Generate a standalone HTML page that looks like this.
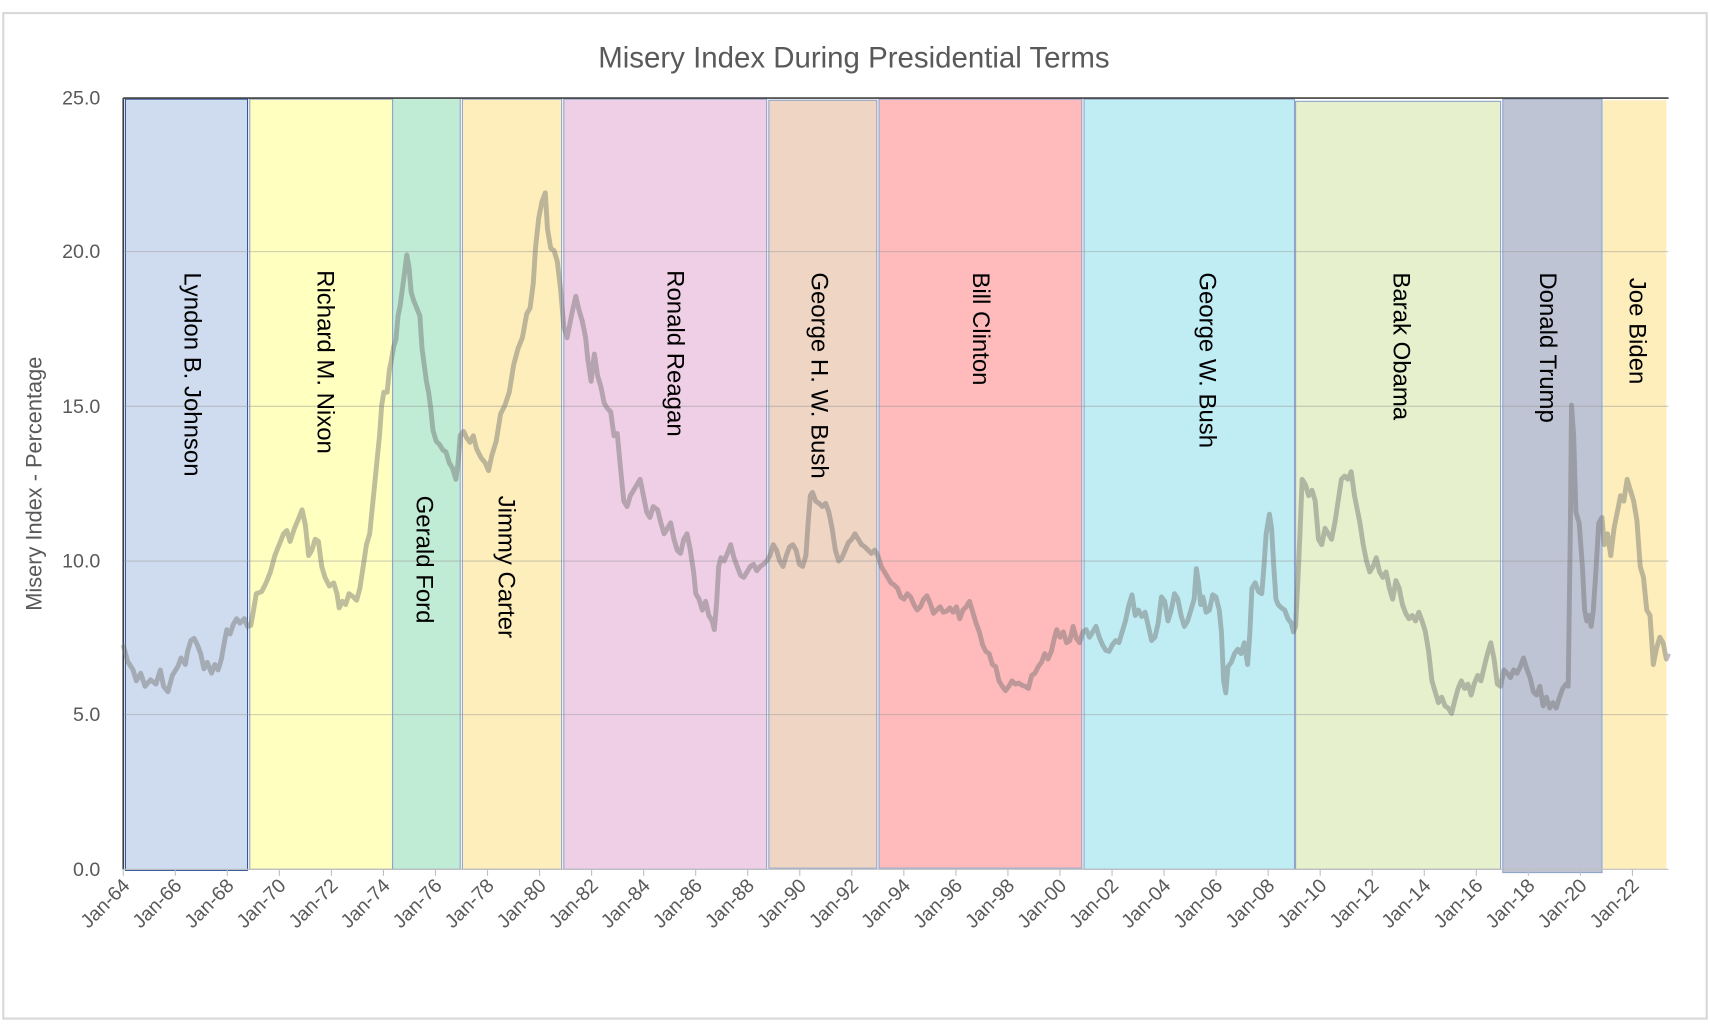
<!DOCTYPE html>
<html><head><meta charset="utf-8"><style>html,body{margin:0;padding:0;background:#fff}svg{display:block}</style></head>
<body>
<svg width="1710" height="1024" viewBox="0 0 1568 940" preserveAspectRatio="none" xmlns="http://www.w3.org/2000/svg" font-family="Liberation Sans, sans-serif">
<rect x="3" y="12" width="1562" height="923" fill="#fff" stroke="#d9d9d9" stroke-width="2"/>
<text x="783" y="62" text-anchor="middle" font-size="27" fill="#595959">Misery Index During Presidential Terms</text>
<g stroke="#8ea3c8" stroke-width="1">
<rect x="115" y="91" width="112" height="708" fill="#cfdcef" stroke="#2f5597"/>
<rect x="229" y="91" width="131" height="707" fill="#ffffc0"/>
<rect x="360" y="90" width="62" height="708" fill="#c0ebd5"/>
<rect x="424" y="91" width="91" height="707" fill="#feeebb"/>
<rect x="517" y="91" width="186" height="707" fill="#eecfe6"/>
<rect x="705" y="92" width="99" height="705" fill="#efd5c3"/>
<rect x="806" y="91" width="186" height="706" fill="#ffbbbb"/>
<rect x="994" y="91" width="193" height="707" fill="#c0edf4"/>
<rect x="1188" y="93" width="188" height="705" fill="#e6f0cd"/>
<rect x="1378" y="91" width="91" height="710" fill="#bec4d4"/>
<rect x="1470" y="92" width="58" height="706" fill="#fdeebb" stroke="none"/>
</g>
<g stroke="#9a9a9a" stroke-opacity="0.5" stroke-width="1">
<line x1="113" y1="231" x2="1530" y2="231"/><line x1="113" y1="373" x2="1530" y2="373"/>
<line x1="113" y1="515" x2="1530" y2="515"/><line x1="113" y1="656" x2="1530" y2="656"/>
</g>
<line x1="113" y1="90" x2="1530" y2="90" stroke="#404040" stroke-width="1.5"/>
<line x1="113" y1="90" x2="113" y2="798" stroke="#404040" stroke-width="1.5"/>
<line x1="113" y1="798" x2="1530" y2="798" stroke="#bfbfbf" stroke-width="1"/>
<g font-size="18" fill="#595959" text-anchor="end">
<text x="92" y="96">25.0</text><text x="92" y="237">20.0</text><text x="92" y="379">15.0</text>
<text x="92" y="521">10.0</text><text x="92" y="662">5.0</text><text x="92" y="804">0.0</text>
</g>
<text transform="translate(38,444) rotate(-90)" text-anchor="middle" font-size="20" fill="#595959">Misery Index - Percentage</text>
<g id="xt" font-size="18" fill="#595959" text-anchor="end" stroke="none"></g>
<polyline fill="none" stroke="#6e6e6e" stroke-opacity="0.45" stroke-width="4.5" stroke-linejoin="round" points="113,592 117,607 122,615 125,625 129,618 133,630 138,624 143,628 147,615 150,630 154,635 158,620 163,612 166,604 170,610 172,598 175,588 178,586 181,592 184,600 187,614 190,608 194,618 197,610 200,615 203,605 206,588 208,578 211,582 214,573 217,568 220,572 224,568 227,575 230,574 232,563 235,545 240,543 244,535 248,525 252,510 256,500 260,490 263,487 266,497 270,485 273,478 277,468 280,482 283,510 286,505 289,495 292,497 295,520 298,530 302,538 306,535 309,545 311,558 314,552 317,555 320,545 324,548 327,551 330,540 333,520 336,500 339,490 341,470 343,450 345,430 348,400 350,372 352,360 355,360 357,340 359,330 361,318 363,312 365,290 367,280 369,265 371,250 373,234 375,245 377,268 379,275 381,280 383,285 385,290 387,320 389,335 391,350 393,360 395,375 397,395 400,405 403,408 406,413 409,415 412,425 415,430 418,440 420,425 422,400 425,396 428,402 431,406 434,400 437,412 441,420 445,425 448,432 451,418 455,405 459,380 463,372 467,360 471,335 475,320 479,310 483,288 486,283 489,260 491,228 494,200 497,185 500,177 502,210 505,228 508,230 511,240 514,265 517,300 520,310 522,300 525,285 528,272 531,285 534,295 537,310 539,330 542,350 545,325 548,345 551,355 554,370 557,375 560,378 563,400 566,398 569,430 572,460 575,465 578,455 581,450 584,445 587,440 590,455 593,470 596,475 599,465 603,468 606,480 609,490 612,485 615,480 618,495 621,505 624,508 627,495 630,490 633,505 636,525 638,545 641,550 644,560 647,552 650,565 653,570 655,578 657,555 659,520 661,512 664,515 667,508 670,500 673,512 676,520 679,528 682,530 685,525 688,520 691,518 694,524 697,520 700,518 703,515 706,510 709,500 712,505 715,515 718,520 721,510 724,502 727,500 730,505 733,518 736,520 739,510 741,480 743,455 745,452 748,460 751,462 754,465 757,462 760,470 763,485 766,505 769,515 772,512 775,505 778,498 781,495 784,490 787,495 790,500 793,502 796,505 799,508 802,505 805,510 808,520 811,525 814,530 817,535 820,537 823,540 826,548 829,550 832,545 835,548 838,555 841,560 844,557 847,550 850,547 853,554 856,563 859,560 862,557 865,562 868,561 871,558 874,562 877,557 880,568 883,560 886,557 889,552 892,562 895,572 898,580 901,592 904,598 907,600 910,610 913,612 916,625 919,630 922,634 925,630 928,625 931,628 934,627 937,629 940,630 943,632 946,620 949,618 952,612 955,608 958,600 961,605 964,598 967,585 969,578 972,585 975,580 978,590 981,588 984,575 987,586 990,590 993,580 996,578 999,585 1002,580 1005,575 1008,585 1011,592 1014,597 1017,598 1020,592 1023,588 1026,590 1029,580 1032,570 1035,556 1038,546 1041,565 1044,560 1047,566 1050,562 1053,575 1056,588 1059,585 1062,572 1065,548 1068,552 1071,570 1074,560 1077,545 1080,550 1083,565 1086,575 1089,570 1092,560 1095,550 1097,522 1099,535 1101,555 1103,548 1106,562 1109,560 1112,546 1115,548 1118,560 1120,580 1122,625 1124,636 1126,612 1129,608 1132,600 1135,596 1138,600 1141,590 1144,610 1146,582 1148,540 1151,535 1154,543 1157,545 1159,520 1161,490 1164,472 1166,485 1168,520 1170,550 1172,555 1175,558 1178,560 1181,568 1184,572 1186,580 1188,575 1190,535 1192,490 1194,440 1197,445 1200,455 1203,450 1206,460 1209,495 1212,500 1215,485 1218,490 1221,495 1224,480 1227,460 1230,440 1233,437 1236,440 1239,433 1242,455 1245,470 1247,480 1250,500 1253,515 1256,525 1259,520 1262,512 1265,525 1268,530 1271,525 1274,540 1277,550 1280,533 1283,540 1286,555 1289,563 1292,568 1295,565 1298,570 1301,562 1304,570 1307,580 1310,598 1313,625 1316,635 1319,645 1322,640 1325,648 1328,650 1331,655 1334,643 1337,632 1340,625 1343,632 1346,628 1349,638 1352,627 1355,620 1358,625 1361,612 1364,600 1367,590 1370,605 1373,628 1376,630 1379,615 1382,618 1385,622 1388,615 1391,618 1394,612 1397,604 1400,614 1403,622 1406,635 1409,638 1412,630 1415,648 1418,640 1421,650 1424,645 1427,650 1430,640 1433,632 1436,628 1438,630 1440,480 1441,372 1443,400 1445,470 1448,480 1451,520 1453,560 1455,570 1457,565 1459,575 1461,560 1463,530 1466,480 1469,475 1471,500 1474,490 1477,510 1480,485 1483,470 1486,455 1489,460 1492,440 1495,450 1498,460 1501,478 1504,520 1507,530 1510,560 1513,565 1516,610 1519,595 1522,585 1525,590 1528,605 1530,600"/>
<g font-size="22" fill="#000">
<text transform="translate(169,250) rotate(90)">Lyndon B. Johnson</text>
<text transform="translate(291,248) rotate(90)">Richard M. Nixon</text>
<text transform="translate(382,455) rotate(90)">Gerald Ford</text>
<text transform="translate(457,455) rotate(90)">Jimmy Carter</text>
<text transform="translate(612,248) rotate(90)">Ronald Reagan</text>
<text transform="translate(744,250) rotate(90)">George H. W. Bush</text>
<text transform="translate(892,250) rotate(90)">Bill Clinton</text>
<text transform="translate(1100,250) rotate(90)">George W. Bush</text>
<text transform="translate(1278,250) rotate(90)">Barak Obama</text>
<text transform="translate(1412,250) rotate(90)">Donald Trump</text>
<text transform="translate(1494,255) rotate(90)">Joe Biden</text>
</g>
<script>
var g=document.getElementById('xt'),ns='http://www.w3.org/2000/svg';
for(var i=0;i<30;i++){var yr=(64+2*i)%100;var x=113+i*47.72;
var l=document.createElementNS(ns,'line');l.setAttribute('x1',x);l.setAttribute('x2',x);l.setAttribute('y1',798);l.setAttribute('y2',804);l.setAttribute('stroke','#bfbfbf');g.appendChild(l);
var t=document.createElementNS(ns,'text');t.setAttribute('transform','translate('+(x+7)+',814) rotate(-45)');t.textContent='Jan-'+(yr<10?'0':'')+yr;g.appendChild(t);}
</script>
</svg>
</body></html>
